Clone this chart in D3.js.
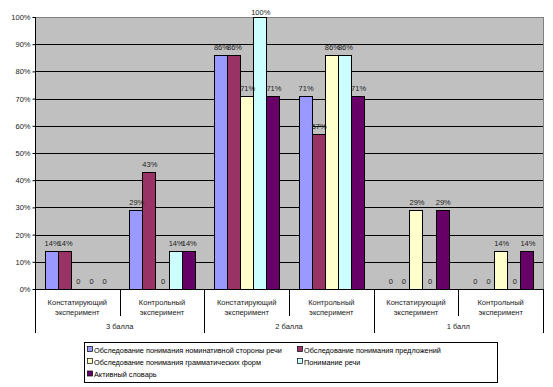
<!DOCTYPE html>
<meta http-equiv="Content-type" content="text/html;charset=UTF-8">
<html>
<head>
<script src="https://cdn.jsdelivr.net/npm/d3@7"></script>
<style>
  body { margin: 0; background: #fff; }
  svg text { font-family: "Liberation Sans", Arial, sans-serif; }
</style>
</head>
<body>
<div id="chart"></div>
<script>
var WIDTH = 553, HEIGHT = 387;

// data
var categories = ["Констатирующий эксперимент", "Контрольный эксперимент",
                  "Констатирующий эксперимент", "Контрольный эксперимент",
                  "Констатирующий эксперимент", "Контрольный эксперимент"];
var groups = ["3 балла", "2 балла", "1 балл"];
var seriesNames = ["Обследование понимания номинативной стороны речи",
                   "Обследование понимания предложений",
                   "Обследование понимания грамматических форм",
                   "Понимание речи",
                   "Активный словарь"];
var seriesColors = ["#9999FF", "#993366", "#FFFFCC", "#CCFFFF", "#660066"];
var nominative = [14, 29, 86, 71, 0, 0];
var sentences  = [14, 43, 86, 57, 0, 0];
var grammar    = [0, 0, 71, 86, 29, 14];
var speech     = [0, 14, 100, 86, 0, 0];
var vocabulary = [0, 14, 71, 71, 29, 14];
var yTicks = [0, 10, 20, 30, 40, 50, 60, 70, 80, 90, 100];

var seriesValues = [nominative, sentences, grammar, speech, vocabulary];

var pLeft = 35, pRight = 543, pTop = 17, pBottom = 289;

var svg = d3.select("#chart").append("svg").attr("width", WIDTH).attr("height", HEIGHT);

var x0 = d3.scaleBand().domain(d3.range(categories.length)).range([pLeft, pRight]);
var pad = 9.5;
var x1 = d3.scaleBand().domain(d3.range(seriesNames.length)).range([pad, x0.bandwidth() - pad]);
var y = d3.scaleLinear().domain([0, 100]).range([pBottom, pTop]);

// plot background
svg.append("rect").attr("x", pLeft + 0.5).attr("y", pTop + 0.5).attr("width", pRight - pLeft).attr("height", pBottom - pTop)
  .style("fill", "#C0C0C0").style("stroke", "#808080").style("stroke-width", 1);

// gridlines
svg.append("g").selectAll("line").data(yTicks.filter(function(d){ return d > 0 && d < 100; })).enter()
  .append("line")
  .attr("x1", pLeft).attr("x2", pRight)
  .attr("y1", function(d){ return Math.round(y(d)) + 0.5; })
  .attr("y2", function(d){ return Math.round(y(d)) + 0.5; })
  .style("stroke", "#000").style("stroke-width", 1);

// bars
var rows = [];
seriesValues.forEach(function(vals, s){
  vals.forEach(function(v, c){ rows.push({s: s, c: c, v: v}); });
});

var g = svg.append("g");
g.selectAll("rect").data(rows.filter(function(d){ return d.v > 0; })).enter()
  .append("rect")
  .attr("x", function(d){ return Math.round(x0(d.c) + x1(d.s)) + 0.5; })
  .attr("y", function(d){ return Math.round(y(d.v)) + 0.5; })
  .attr("width", function(d){ return Math.round(x1.bandwidth()); })
  .attr("height", function(d){ return Math.round(y(0)) - Math.round(y(d.v)); })
  .style("fill", function(d){ return seriesColors[d.s]; })
  .style("stroke", "#000").style("stroke-width", 1);

// value labels (excel pushes the top one down a bit)
g.selectAll("text").data(rows).enter()
  .append("text")
  .attr("x", function(d){ return x0(d.c) + x1(d.s) + x1.bandwidth() / 2 + 1; })
  .attr("y", function(d){ return Math.max(y(d.v) - 5, 14.5); })
  .attr("text-anchor", "middle")
  .style("font-size", "7.5px").style("fill", "#222")
  .text(function(d){ return d.v === 0 ? "0" : d.v + "%"; });

// y axis
var yAxis = d3.axisLeft(y).tickValues(yTicks).tickSize(3).tickFormat(function(d){ return d + "%"; });
var ya = svg.append("g").attr("transform", "translate(" + (pLeft + 0.5) + ",0)").call(yAxis);
ya.select(".domain").remove();
ya.selectAll("line").style("stroke", "#000");
ya.selectAll("text").style("font-size", "7.5px").style("fill", "#222").attr("x", -5);
svg.append("line").attr("x1", pLeft + 0.5).attr("x2", pLeft + 0.5).attr("y1", pTop).attr("y2", pBottom)
  .style("stroke", "#000");
svg.append("line").attr("x1", pLeft).attr("x2", pRight).attr("y1", pBottom + 0.5).attr("y2", pBottom + 0.5)
  .style("stroke", "#000");

// category labels, two lines
var cat = svg.append("g").selectAll("text").data(categories).enter()
  .append("text")
  .attr("text-anchor", "middle")
  .style("font-size", "7.5px").style("fill", "#222");
cat.each(function(d, i){
  var parts = d.split(" ");
  var t = d3.select(this);
  parts.forEach(function(p, k){
    t.append("tspan").attr("x", x0(i) + x0.bandwidth() / 2).attr("y", 305 + k * 10).text(p);
  });
});

// dividers
svg.append("g").selectAll("line").data(d3.range(categories.length + 1)).enter()
  .append("line")
  .attr("x1", function(d){ return Math.round(pLeft + d * x0.bandwidth()) + 0.5; })
  .attr("x2", function(d){ return Math.round(pLeft + d * x0.bandwidth()) + 0.5; })
  .attr("y1", pBottom)
  .attr("y2", function(d){ return d % 2 === 0 ? 333 : 316; })
  .style("stroke", "#000");

// group labels
svg.append("g").selectAll("text").data(groups).enter()
  .append("text")
  .attr("x", function(d, i){ return pLeft + (2 * i + 1) * x0.bandwidth(); })
  .attr("y", 329)
  .attr("text-anchor", "middle")
  .style("font-size", "7.5px").style("fill", "#222")
  .text(function(d){ return d; });

// legend
var lg = svg.append("g");
lg.append("rect").attr("x", 84.5).attr("y", 342.5).attr("width", 413).attr("height", 40)
  .style("fill", "#fff").style("stroke", "#000");
var legendPos = [[87, 350], [297, 350], [87, 362], [297, 362], [87, 374.5]];
seriesNames.forEach(function(name, i){
  var p = legendPos[i];
  lg.append("rect").attr("x", p[0] + 0.5).attr("y", p[1] - 3.5).attr("width", 5).attr("height", 5)
    .style("fill", seriesColors[i]).style("stroke", "#000").style("stroke-width", 0.7);
  lg.append("text").attr("x", p[0] + 7).attr("y", p[1] + 2.5)
    .style("font-size", "7.3px").style("fill", "#000").text(name);
});
</script>
</body>
</html>
